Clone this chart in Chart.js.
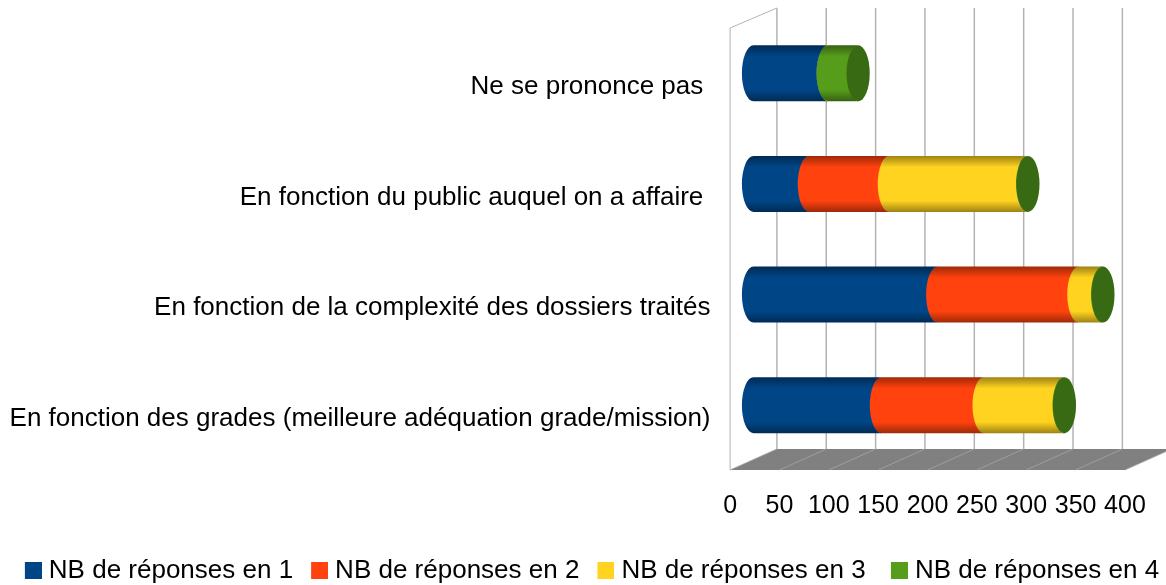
<!DOCTYPE html>
<html>
<head>
<meta charset="utf-8">
<style>html,body{margin:0;padding:0;background:#fff}#w{width:1166px;height:585px}</style>
<script src="https://cdn.jsdelivr.net/npm/chart.js@4"></script>
</head>
<body>
<div id="w"><canvas id="c"></canvas></div>
<script>
const categories = [
  "Ne se prononce pas ",
  "En fonction du public auquel on a affaire ",
  "En fonction de la complexité des dossiers traités",
  "En fonction des grades (meilleure adéquation grade/mission)"
];
const seriesNames = ["NB de réponses en 1", "NB de réponses en 2", "NB de réponses en 3 ", "NB de réponses en 4"];
const reponses1 = [75, 56, 186, 129];
const reponses2 = [null, 81, 143, 104];
const reponses3 = [0, 140, 24, 81];
const reponses4 = [31, 1, 1, 1];
const tickValues = [0, 50, 100, 150, 200, 250, 300, 350, 400];
const seriesColors = ["#004586", "#ff420e", "#ffd320", "#579d1c"];
const capColor = "#376a12";
const FONT = "'Liberation Sans'";

function shade(hex, f) {
  const n = parseInt(hex.slice(1), 16);
  const r = Math.round((n >> 16) * f), g = Math.round(((n >> 8) & 255) * f), b = Math.round((n & 255) * f);
  return `rgb(${r},${g},${b})`;
}

const RX = 11.6;
Chart.BarElement.prototype.draw = function (ctx) {
  const { x, y, base, height } = this.getProps(["x", "y", "base", "height"], true);
  if (!isFinite(x) || !isFinite(base)) return;
  const color = this.options.backgroundColor;
  const ry = height / 2, top = y - ry, bottom = y + ry;
  const g = ctx.createLinearGradient(0, top, 0, bottom);
  g.addColorStop(0, shade(color, 0.62));
  g.addColorStop(0.2, color);
  g.addColorStop(0.8, color);
  g.addColorStop(1, shade(color, 0.62));
  ctx.save();
  if (x - base < 0.5) {
    ctx.beginPath();
    ctx.ellipse(x, y, RX, ry, 0, Math.PI / 2, 3 * Math.PI / 2, false);
    ctx.strokeStyle = color;
    ctx.lineWidth = 1;
    ctx.stroke();
  } else {
    ctx.beginPath();
    ctx.moveTo(base, top);
    ctx.ellipse(base, y, RX, ry, 0, 3 * Math.PI / 2, Math.PI / 2, true);
    ctx.lineTo(x + 0.6, bottom);
    ctx.ellipse(x + 0.6, y, RX, ry, 0, Math.PI / 2, 3 * Math.PI / 2, false);
    ctx.closePath();
    ctx.fillStyle = g;
    ctx.fill();
  }
  if (color === seriesColors[seriesColors.length - 1]) {
    ctx.beginPath();
    ctx.ellipse(x, y, RX, ry, 0, 0, Math.PI * 2);
    ctx.fillStyle = capColor;
    ctx.fill();
  }
  ctx.restore();
};

const BACK_X = 23.4, FRONT_X = -23.4;
const LEGEND_DX = 3.5, LEGEND_DY = 8.5;
const wallPlugin = {
  id: "wall",
  afterLayout(chart) {
    chart.legend.top += LEGEND_DY;
    chart.legend.bottom += LEGEND_DY;
    chart.legend.left += LEGEND_DX;
    chart.legend.right += LEGEND_DX;
  },
  beforeDatasetsDraw(chart) {
    const { ctx, scales: { x }, chartArea: a } = chart;
    const backTop = a.top - 10, backBottom = a.bottom - 11.5;
    const frontTop = a.top + 10, frontBottom = a.bottom + 9.5;
    const ticks = x.ticks.map(t => x.getPixelForValue(t.value));
    ctx.save();
    // floor
    ctx.beginPath();
    ctx.moveTo(ticks[0] + FRONT_X, frontBottom);
    ctx.lineTo(ticks[ticks.length - 1] + FRONT_X, frontBottom);
    ctx.lineTo(ticks[ticks.length - 1] + BACK_X, backBottom);
    ctx.lineTo(ticks[0] + BACK_X, backBottom);
    ctx.closePath();
    ctx.fillStyle = "#808080";
    ctx.fill();
    // floor lines
    ctx.strokeStyle = "#a6a6a6";
    ctx.lineWidth = 0.8;
    ticks.forEach(p => {
      ctx.beginPath();
      ctx.moveTo(p + FRONT_X, frontBottom);
      ctx.lineTo(p + BACK_X, backBottom);
      ctx.stroke();
    });
    // back wall grid
    ctx.strokeStyle = "#b3b3b3";
    ctx.lineWidth = 1.5;
    ticks.forEach(p => {
      ctx.beginPath();
      ctx.moveTo(p + BACK_X, backTop);
      ctx.lineTo(p + BACK_X, backBottom);
      ctx.stroke();
    });
    // side wall
    ctx.lineWidth = 1;
    ctx.beginPath();
    ctx.moveTo(ticks[0] + BACK_X, backTop);
    ctx.lineTo(ticks[0] + FRONT_X, frontTop);
    ctx.lineTo(ticks[0] + FRONT_X, frontBottom);
    ctx.stroke();
    ctx.restore();
  }
};

function swatch(color) {
  const c = document.createElement("canvas");
  c.width = 34; c.height = 17;
  const k = c.getContext("2d");
  k.fillStyle = color;
  k.fillRect(17, 0, 17, 17);
  return c;
}

function noPad(s) {
  s.paddingLeft = s.paddingRight = s.paddingTop = s.paddingBottom = 0;
}

const allValues = [reponses1, reponses2, reponses3, reponses4];
new Chart(document.getElementById("c"), {
  type: "bar",
  data: {
    labels: categories,
    datasets: seriesNames.map((name, i) => ({
      label: name,
      data: allValues[i],
      backgroundColor: seriesColors[i],
      barThickness: 56,
      clip: false
    }))
  },
  plugins: [wallPlugin],
  options: {
    indexAxis: "y",
    responsive: true,
    maintainAspectRatio: false,
    animation: false,
    layout: { padding: { top: 18, right: 0, bottom: 0, left: 0 } },
    scales: {
      x: {
        stacked: true,
        min: 0,
        max: 417.9,
        grid: { display: false },
        border: { display: false },
        ticks: {
          stepSize: 50,
          autoSkip: false,
          maxRotation: 0,
          padding: 23,
          labelOffset: FRONT_X,
          color: "#000",
          font: { family: FONT, size: 25 }
        },
        afterBuildTicks(s) { s.ticks = tickValues.map(value => ({ value })); },
        afterFit(s) { s.height = 81.5; noPad(s); }
      },
      y: {
        stacked: true,
        grid: { display: false },
        border: { display: false },
        ticks: {
          autoSkip: false,
          padding: 35,
          labelOffset: 13.5,
          color: "#000",
          font: { family: FONT, size: 26 }
        },
        afterFit(s) { s.width = 753.5; noPad(s); }
      }
    },
    plugins: {
      tooltip: { enabled: false },
      legend: {
        position: "bottom",
        labels: {
          color: "#000",
          font: { family: FONT, size: 26 },
          usePointStyle: true,
          pointStyleWidth: 22,
          padding: 7,
          generateLabels(chart) {
            return Chart.defaults.plugins.legend.labels.generateLabels(chart).map((it, i) => {
              it.pointStyle = swatch(seriesColors[i]);
              return it;
            });
          }
        }
      }
    }
  }
});
</script>
</body>
</html>
